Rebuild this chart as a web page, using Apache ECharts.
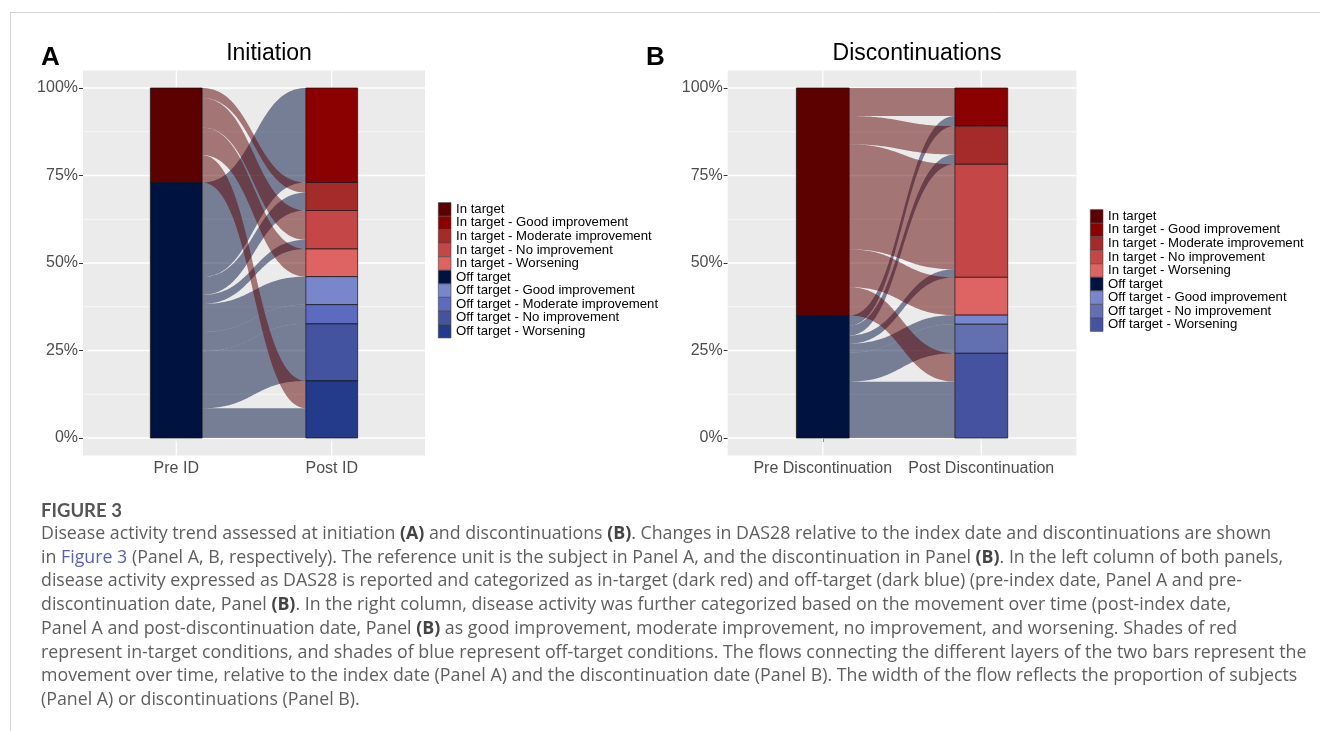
<!DOCTYPE html>
<html><head><meta charset="utf-8">
<script src="https://cdn.jsdelivr.net/npm/echarts@6/dist/echarts.min.js"></script>
<style>html,body{margin:0;padding:0;background:#fff}#c{width:1320px;height:731px}</style>
</head><body><div id="c"></div>
<script>
// ---------------- data ----------------
const preLevels = ['In target', 'Off target'];
const postLevelsA = ['In target - Good improvement', 'In target - Moderate improvement', 'In target - No improvement', 'In target - Worsening',
  'Off target - Good improvement', 'Off target - Moderate improvement', 'Off target - No improvement', 'Off target - Worsening'];
// percent of subjects flowing from each pre-ID level to each post-ID level
const flowFromInTargetA  = [0,    2.9, 8.4, 7.9, 0,   0,   0,    7.8];
const flowFromOffTargetA = [27.0, 5.1, 2.6, 0,   8.0, 5.5, 16.3, 8.5];

const postLevelsB = ['In target - Good improvement', 'In target - Moderate improvement', 'In target - No improvement', 'In target - Worsening',
  'Off target - Good improvement', 'Off target - No improvement', 'Off target - Worsening'];
const flowFromInTargetB  = [8.0, 8.1, 30.0, 10.8, 0,   0,   8.1];
const flowFromOffTargetB = [2.9, 2.8, 2.3,  0,    2.6, 8.3, 16.1];

const axisLabelsA = ['Pre ID', 'Post ID'];
const axisLabelsB = ['Pre Discontinuation', 'Post Discontinuation'];
const yTickValues = [0, 0.25, 0.5, 0.75, 1];
const yMinorValues = [0.125, 0.375, 0.625, 0.875];

const preColors = ['#5C0000', '#00123F'];
const postColorsA = ['#8B0000', '#A52A2A', '#C44646', '#DE6464', '#7986CB', '#5C6BC0', '#4453A0', '#243A8A'];
const postColorsB = ['#8B0000', '#A52A2A', '#C44646', '#DE6464', '#7887CD', '#6270B2', '#4452A0'];

const captionTitle = 'FIGURE 3';
const captionLines = [
  [['n', 'Disease activity trend assessed at initiation '], ['b', '(A)'], ['n', ' and discontinuations '], ['b', '(B)'], ['n', '. Changes in DAS28 relative to the index date and discontinuations are shown']],
  [['n', 'in '], ['l', 'Figure 3'], ['n', ' (Panel A, B, respectively). The reference unit is the subject in Panel A, and the discontinuation in Panel '], ['b', '(B)'], ['n', '. In the left column of both panels,']],
  [['n', 'disease activity expressed as DAS28 is reported and categorized as in-target (dark red) and off-target (dark blue) (pre-index date, Panel A and pre-']],
  [['n', 'discontinuation date, Panel '], ['b', '(B)'], ['n', '. In the right column, disease activity was further categorized based on the movement over time (post-index date,']],
  [['n', 'Panel A and post-discontinuation date, Panel '], ['b', '(B)'], ['n', ' as good improvement, moderate improvement, no improvement, and worsening. Shades of red']],
  [['n', 'represent in-target conditions, and shades of blue represent off-target conditions. The flows connecting the different layers of the two bars represent the']],
  [['n', 'movement over time, relative to the index date (Panel A) and the discontinuation date (Panel B). The width of the flow reflects the proportion of subjects']],
  [['n', '(Panel A) or discontinuations (Panel B).']]
];

// ---------------- layout helpers ----------------
const HALF = 1 / 6;
function buildAlluvial(flowIn, flowOff) {
  const m = [flowIn, flowOff];
  const n = flowIn.length;
  const preTot = m.map(r => r.reduce((s, v) => s + v, 0));
  const postTot = flowIn.map((v, j) => v + flowOff[j]);
  const total = preTot[0] + preTot[1];
  const strata = [];
  const preTop = []; let c = 1;
  preTot.forEach((v, i) => { preTop.push(c); strata.push([1, c, c - v / total, 0, i]); c -= v / total; });
  const postTop = []; c = 1;
  postTot.forEach((v, j) => { postTop.push(c); strata.push([2, c, c - v / total, 1, j]); c -= v / total; });
  const leftCur = preTop.slice(), rightCur = postTop.slice();
  const leftPos = {};
  for (let i = 0; i < 2; i++) for (let j = 0; j < n; j++) {
    const v = m[i][j] / total;
    if (v > 0) { leftPos[i + '_' + j] = [leftCur[i], leftCur[i] - v]; leftCur[i] -= v; }
  }
  const flows = [];
  for (let j = 0; j < n; j++) for (let i = 0; i < 2; i++) {
    const v = m[i][j] / total;
    if (v > 0) { const lp = leftPos[i + '_' + j]; flows.push([lp[0], lp[1], rightCur[j], rightCur[j] - v, i]); rightCur[j] -= v; }
  }
  return { strata, flows };
}
const alA = buildAlluvial(flowFromInTargetA, flowFromOffTargetA);
const alB = buildAlluvial(flowFromInTargetB, flowFromOffTargetB);

function bez(p, q, t) {
  const dx = q[0] - p[0], k = 0.5;
  const c1 = [p[0] + k * dx, p[1]], c2 = [q[0] - k * dx, q[1]];
  const mt = 1 - t;
  return [mt * mt * mt * p[0] + 3 * mt * mt * t * c1[0] + 3 * mt * t * t * c2[0] + t * t * t * q[0],
          mt * mt * mt * p[1] + 3 * mt * mt * t * c1[1] + 3 * mt * t * t * c2[1] + t * t * t * q[1]];
}
function flowRender(params, api) {
  const lt = api.value(0), lb = api.value(1), rt = api.value(2), rb = api.value(3), g = api.value(4);
  const xa = 1 + HALF, xb = 2 - HALF;
  const A1 = api.coord([xa, lt]), B1 = api.coord([xb, rt]);
  const A2 = api.coord([xa, lb]), B2 = api.coord([xb, rb]);
  const pts = [], N = 60;
  for (let s = 0; s <= N; s++) pts.push(bez(A1, B1, s / N));
  for (let s = N; s >= 0; s--) pts.push(bez(A2, B2, s / N));
  return { type: 'polygon', shape: { points: pts }, style: { fill: preColors[g], opacity: 0.5 } };
}
function strataRender(colors) {
  return function (params, api) {
    const x = api.value(0), top = api.value(1), bot = api.value(2), side = api.value(3), idx = api.value(4);
    const p1 = api.coord([x - HALF, top]), p2 = api.coord([x + HALF, bot]);
    return { type: 'rect', shape: { x: p1[0], y: p1[1], width: p2[0] - p1[0], height: p2[1] - p1[1] },
      style: { fill: side === 0 ? preColors[idx] : colors[idx], stroke: '#111', lineWidth: 0.7 } };
  };
}
const gridLineData = [...yTickValues.map(v => [0, v, 1]), ...yMinorValues.map(v => [0, v, 0]), [1, 1, 1], [1, 2, 1]];
function gridRender(params, api) {
  const t = api.value(0), v = api.value(1), major = api.value(2);
  let p1, p2;
  if (t === 0) { p1 = api.coord([0.4, v]); p2 = api.coord([2.6, v]); }
  else { p1 = api.coord([v, -0.05]); p2 = api.coord([v, 1.05]); }
  return { type: 'line', shape: { x1: p1[0], y1: p1[1], x2: p2[0], y2: p2[1] }, style: { stroke: '#fff', lineWidth: major ? 1.3 : 0.7 } };
}

const AX_FONT = '"Liberation Sans", Arial, Helvetica, sans-serif';
function xAxisCfg(gi, labels) {
  return { type: 'value', gridIndex: gi, min: 0.4, max: 2.6,
    axisLine: { show: false }, splitLine: { show: false },
    axisTick: { show: true, customValues: [1, 2], length: 4, lineStyle: { color: '#333', width: 1 } },
    axisLabel: { show: true, customValues: [1, 2], margin: 5, formatter: v => labels[Math.round(v) - 1] || '',
      color: '#4D4D4D', fontSize: 16, fontFamily: AX_FONT } };
}
function yAxisCfg(gi) {
  return { type: 'value', gridIndex: gi, min: -0.05, max: 1.05,
    axisLine: { show: false }, splitLine: { show: false },
    axisTick: { show: true, customValues: yTickValues, length: 4, lineStyle: { color: '#333', width: 1 } },
    axisLabel: { show: true, customValues: yTickValues, margin: 5, formatter: v => Math.round(v * 100) + '%',
      color: '#4D4D4D', fontSize: 16, fontFamily: AX_FONT } };
}

// legend entries
const legendNamesA = [preLevels[0], ...postLevelsA.slice(0, 4), preLevels[1], ...postLevelsA.slice(4)];
const legendColorsA = [preColors[0], ...postColorsA.slice(0, 4), preColors[1], ...postColorsA.slice(4)];
const legendNamesB = [preLevels[0], ...postLevelsB.slice(0, 4), preLevels[1], ...postLevelsB.slice(4)];
const legendColorsB = [preColors[0], ...postColorsB.slice(0, 4), preColors[1], ...postColorsB.slice(4)];
const legendSeries = [
  ...legendNamesA.map((n, i) => ({ type: 'scatter', name: 'A|' + n, data: [], xAxisIndex: 0, yAxisIndex: 0, itemStyle: { color: legendColorsA[i], opacity: 1 } })),
  ...legendNamesB.map((n, i) => ({ type: 'scatter', name: 'B|' + n, data: [], xAxisIndex: 1, yAxisIndex: 1, itemStyle: { color: legendColorsB[i], opacity: 1 } }))
];
function legendCfg(prefix, names, left, top) {
  return { data: names.map(n => prefix + '|' + n), orient: 'vertical', left: left, top: top, padding: 0,
    itemWidth: 12.7, itemHeight: 13.4, itemGap: -0.45, icon: 'rect', selectedMode: false,
    itemStyle: { borderColor: '#444', borderWidth: 0.6, opacity: 1 },
    formatter: n => n.slice(2),
    textStyle: { fontSize: 13.2, lineHeight: 13.4, color: '#000', fontFamily: AX_FONT } };
}

// caption graphics
const CAP_FONT = '"Open Sans", Lato, sans-serif';
const CAP_SIZE = 17.8;
const richStyles = {
  n: { fontFamily: CAP_FONT, fontSize: CAP_SIZE, fill: '#5e5e5e' },
  b: { fontFamily: CAP_FONT, fontSize: CAP_SIZE, fill: '#444', fontWeight: 'bold' },
  l: { fontFamily: CAP_FONT, fontSize: CAP_SIZE, fill: '#5A5FB5' }
};
const captionGraphics = captionLines.map((segs, k) => ({
  type: 'text', x: 41, y: 534 + k * 23.7,
  style: { text: segs.map(s => '{' + s[0] + '|' + s[1] + '}').join(''), rich: richStyles, verticalAlign: 'middle' }
}));

const option = {
  animation: false,
  backgroundColor: '#fff',
  grid: [
    { left: 83, top: 70.5, width: 342, height: 385, show: true, backgroundColor: '#EBEBEB', borderWidth: 0 },
    { left: 727.7, top: 70.5, width: 348.7, height: 385, show: true, backgroundColor: '#EBEBEB', borderWidth: 0 }
  ],
  xAxis: [xAxisCfg(0, axisLabelsA), xAxisCfg(1, axisLabelsB)],
  yAxis: [yAxisCfg(0), yAxisCfg(1)],
  legend: [legendCfg('A', legendNamesA, 438, 202.3), legendCfg('B', legendNamesB, 1090, 209.3)],
  graphic: [
    { type: 'line', shape: { x1: 10, y1: 12.5, x2: 1320, y2: 12.5 }, style: { stroke: '#d4d4d4', lineWidth: 1 } },
    { type: 'line', shape: { x1: 10.5, y1: 12, x2: 10.5, y2: 731 }, style: { stroke: '#d4d4d4', lineWidth: 1 } },
    { type: 'text', x: 41, y: 58, style: { text: 'A', font: 'bold 26px ' + AX_FONT, fill: '#000', verticalAlign: 'middle' } },
    { type: 'text', x: 646, y: 58, style: { text: 'B', font: 'bold 26px ' + AX_FONT, fill: '#000', verticalAlign: 'middle' } },
    { type: 'text', x: 269, y: 54, style: { text: 'Initiation', font: '23px ' + AX_FONT, fill: '#000', align: 'center', verticalAlign: 'middle' } },
    { type: 'text', x: 917, y: 54, style: { text: 'Discontinuations', font: '23px ' + AX_FONT, fill: '#000', align: 'center', verticalAlign: 'middle' } },
    { type: 'text', x: 41, y: 511, style: { text: captionTitle, font: 'bold 18.5px Lato, "Open Sans", sans-serif', fill: '#555', verticalAlign: 'middle' } },
    ...captionGraphics
  ],
  series: [
    { type: 'custom', name: 'gridA', xAxisIndex: 0, yAxisIndex: 0, z: 1, silent: true, renderItem: gridRender, data: gridLineData },
    { type: 'custom', name: 'gridB', xAxisIndex: 1, yAxisIndex: 1, z: 1, silent: true, renderItem: gridRender, data: gridLineData },
    { type: 'custom', name: 'flowsA', xAxisIndex: 0, yAxisIndex: 0, z: 2, renderItem: flowRender, data: alA.flows },
    { type: 'custom', name: 'flowsB', xAxisIndex: 1, yAxisIndex: 1, z: 2, renderItem: flowRender, data: alB.flows },
    { type: 'custom', name: 'strataA', xAxisIndex: 0, yAxisIndex: 0, z: 3, renderItem: strataRender(postColorsA), data: alA.strata },
    { type: 'custom', name: 'strataB', xAxisIndex: 1, yAxisIndex: 1, z: 3, renderItem: strataRender(postColorsB), data: alB.strata },
    ...legendSeries
  ]
};
const chart = echarts.init(document.getElementById('c'), null, { renderer: 'canvas' });
chart.setOption(option);
</script></body></html>
